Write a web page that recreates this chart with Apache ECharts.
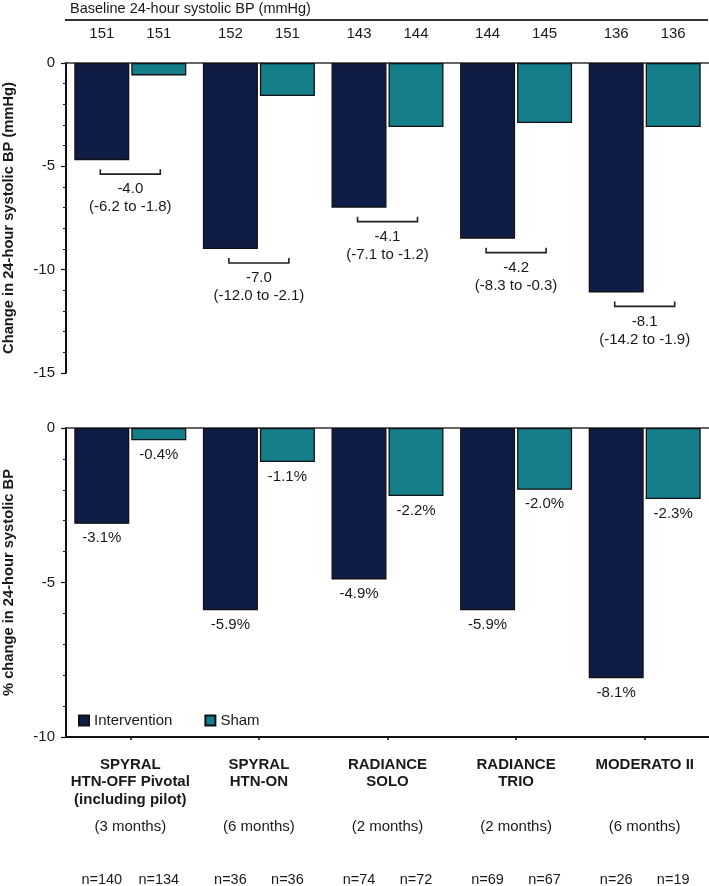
<!DOCTYPE html>
<html><head><meta charset="utf-8">
<script src="https://cdn.jsdelivr.net/npm/echarts@6/dist/echarts.min.js"></script>
<style>html,body{margin:0;padding:0;background:#fff}#c{width:709px;height:886px}</style>
</head><body><div id="c"></div>
<script>
const categories = ['SPYRAL\nHTN-OFF Pivotal\n(including pilot)', 'SPYRAL\nHTN-ON', 'RADIANCE\nSOLO', 'RADIANCE\nTRIO', 'MODERATO II'];
const durations = ['(3 months)', '(6 months)', '(2 months)', '(2 months)', '(6 months)'];
const baselineIntervention = [151, 152, 143, 144, 136];
const baselineSham = [151, 151, 144, 145, 136];
const changeIntervention = [-4.7, -9.0, -7.0, -8.5, -11.1];
const changeSham = [-0.6, -1.6, -3.1, -2.9, -3.1];
const diffEstimate = ['-4.0', '-7.0', '-4.1', '-4.2', '-8.1'];
const diffCI = ['(-6.2 to -1.8)', '(-12.0 to -2.1)', '(-7.1 to -1.2)', '(-8.3 to -0.3)', '(-14.2 to -1.9)'];
const pctIntervention = [-3.1, -5.9, -4.9, -5.9, -8.1];
const pctSham = [-0.4, -1.1, -2.2, -2.0, -2.3];
const nIntervention = [140, 36, 74, 69, 26];
const nSham = [134, 36, 72, 67, 19];
const topAxis = {min: -15, max: 0, interval: 5};
const bottomAxis = {min: -10, max: 0, interval: 5};
const seriesNames = ['Intervention', 'Sham'];

const FONT = '"Liberation Sans", Arial, sans-serif';
const NAVY = '#0f1c45';
const TEAL = '#147e8a';
const TXT = '#1a1a1a';
const BAR_W = 55, BAR_GAP = 2;
const OFF = (BAR_W + BAR_GAP) / 2;

const chart = echarts.init(document.getElementById('c'), null, {renderer: 'canvas'});

function catLabel(name, idx) {
  const lines = name.split('\n');
  while (lines.length < 3) lines.push(' ');
  return lines.map(l => '{b|' + l + '}').join('\n') + '\n{m|' + durations[idx] + '}';
}

const yAxisCommon = {
  type: 'value',
  nameLocation: 'middle',
  nameRotate: 90,
  nameGap: 50,
  nameTextStyle: {fontWeight: 'bold', fontSize: 14.7, color: TXT, fontFamily: FONT},
  axisLine: {show: true, lineStyle: {color: '#111', width: 2}},
  axisTick: {show: true, length: 5, lineStyle: {color: '#111', width: 1.2}},
  minorTick: {show: true, splitNumber: 5, length: 3, lineStyle: {color: '#111', width: 1}},
  splitLine: {show: false},
  axisLabel: {fontSize: 15, color: TXT, fontFamily: FONT, margin: 11}
};

const barItem = (color) => ({color: color, borderColor: '#111', borderWidth: 1.3});

const option = {
  animation: false,
  textStyle: {fontFamily: FONT},
  title: {
    text: 'Baseline 24-hour systolic BP (mmHg)',
    left: 65, top: -4,
    textStyle: {fontSize: 14.5, fontWeight: 'normal', color: TXT, fontFamily: FONT}
  },
  graphic: [{
    type: 'line', shape: {x1: 65, y1: 20, x2: 708, y2: 20},
    style: {stroke: '#333', lineWidth: 2}
  }],
  legend: {
    data: seriesNames, left: 73, top: 708, itemWidth: 10, itemHeight: 10, itemGap: 32,
    icon: 'rect', textStyle: {fontSize: 15, color: TXT, fontFamily: FONT}
  },
  grid: [
    {left: 66, right: 0, top: 63, height: 310, outerBoundsMode: 'none', containLabel: false},
    {left: 66, right: 0, top: 428, height: 309, outerBoundsMode: 'none', containLabel: false}
  ],
  xAxis: [
    {gridIndex: 0, type: 'category', data: categories, position: 'top',
     axisLine: {show: true, lineStyle: {color: '#333', width: 1.5}},
     axisTick: {show: false}, axisLabel: {show: false}},
    {gridIndex: 1, type: 'category', data: categories, position: 'top',
     axisLine: {show: true, lineStyle: {color: '#333', width: 1.5}},
     axisTick: {show: false}, axisLabel: {show: false}},
    {gridIndex: 1, type: 'category', data: categories, position: 'bottom',
     axisLine: {show: true, lineStyle: {color: '#111', width: 2}},
     axisTick: {show: true, alignWithLabel: true, length: 3, lineStyle: {color: '#111', width: 1.5}},
     axisLabel: {
       interval: 0, margin: 19, color: TXT,
       formatter: (v, i) => catLabel(v, i),
       rich: {
         b: {fontWeight: 'bold', fontSize: 15, lineHeight: 17.5, color: TXT, fontFamily: FONT},
         m: {fontSize: 15, lineHeight: 37, color: TXT, fontFamily: FONT}
       }
     }}
  ],
  yAxis: [
    Object.assign({}, yAxisCommon, {gridIndex: 0, min: topAxis.min, max: topAxis.max, interval: topAxis.interval,
      name: 'Change in 24-hour systolic BP (mmHg)'}),
    Object.assign({}, yAxisCommon, {gridIndex: 1, min: bottomAxis.min, max: bottomAxis.max, interval: bottomAxis.interval,
      name: '% change in 24-hour systolic BP'})
  ],
  series: [
    {name: seriesNames[0], type: 'bar', xAxisIndex: 0, yAxisIndex: 0, data: changeIntervention,
     barWidth: BAR_W, barGap: (BAR_GAP / BAR_W * 100) + '%', itemStyle: barItem(NAVY)},
    {name: seriesNames[1], type: 'bar', xAxisIndex: 0, yAxisIndex: 0, data: changeSham,
     barWidth: BAR_W, barGap: (BAR_GAP / BAR_W * 100) + '%', itemStyle: barItem(TEAL)},
    {name: seriesNames[0], type: 'bar', xAxisIndex: 2, yAxisIndex: 1, data: pctIntervention,
     barWidth: BAR_W, barGap: (BAR_GAP / BAR_W * 100) + '%', itemStyle: barItem(NAVY),
     label: {show: true, position: 'bottom', distance: 7, fontSize: 15, color: TXT, fontFamily: FONT,
       formatter: p => p.value.toFixed(1) + '%'}},
    {name: seriesNames[1], type: 'bar', xAxisIndex: 2, yAxisIndex: 1, data: pctSham,
     barWidth: BAR_W, barGap: (BAR_GAP / BAR_W * 100) + '%', itemStyle: barItem(TEAL),
     label: {show: true, position: 'bottom', distance: 7, fontSize: 15, color: TXT, fontFamily: FONT,
       formatter: p => p.value.toFixed(1) + '%'}},
    // baseline values above the top panel
    {type: 'custom', xAxisIndex: 0, yAxisIndex: 0, silent: true, z: 5,
     data: categories.map((_, i) => [i, topAxis.max]),
     encode: {x: 0, y: 1},
     renderItem: (params, api) => {
       const i = api.value(0);
       const c = api.coord([i, topAxis.max]);
       const st = (t, x) => ({type: 'text', style: {text: String(t), x: x, y: c[1] - 29, align: 'center', verticalAlign: 'middle',
         fontSize: 15, fontFamily: FONT, fill: TXT}});
       return {type: 'group', children: [st(baselineIntervention[i], c[0] - OFF), st(baselineSham[i], c[0] + OFF)]};
     }},
    // difference brackets
    {type: 'custom', xAxisIndex: 0, yAxisIndex: 0, silent: true, z: 5,
     data: changeIntervention.map((v, i) => [i, v]),
     encode: {x: 0, y: 1},
     renderItem: (params, api) => {
       const i = api.value(0);
       const p = api.coord([i, api.value(1)]);
       const y = p[1] + 14, x1 = p[0] - 30, x2 = p[0] + 30;
       const ls = {stroke: '#222', lineWidth: 1.6, fill: null};
       return {type: 'group', children: [
         {type: 'polyline', shape: {points: [[x1, y - 5], [x1, y], [x2, y], [x2, y - 5]]}, style: ls},
         {type: 'text', style: {text: diffEstimate[i], x: p[0], y: y + 15, align: 'center', verticalAlign: 'middle',
           fontSize: 15, fontFamily: FONT, fill: TXT}},
         {type: 'text', style: {text: diffCI[i], x: p[0], y: y + 33, align: 'center', verticalAlign: 'middle',
           fontSize: 15, fontFamily: FONT, fill: TXT}}
       ]};
     }},
    // sample sizes below the bottom panel
    {type: 'custom', xAxisIndex: 2, yAxisIndex: 1, silent: true, z: 5,
     data: categories.map((_, i) => [i, bottomAxis.min]),
     encode: {x: 0, y: 1},
     renderItem: (params, api) => {
       const i = api.value(0);
       const c = api.coord([i, bottomAxis.min]);
       const st = (t, x) => ({type: 'text', style: {text: 'n=' + t, x: x, y: c[1] + 143, align: 'center', verticalAlign: 'middle',
         fontSize: 14.5, fontFamily: FONT, fill: TXT}});
       return {type: 'group', children: [st(nIntervention[i], c[0] - OFF), st(nSham[i], c[0] + OFF)]};
     }}
  ]
};
chart.setOption(option);
</script>
</body></html>
